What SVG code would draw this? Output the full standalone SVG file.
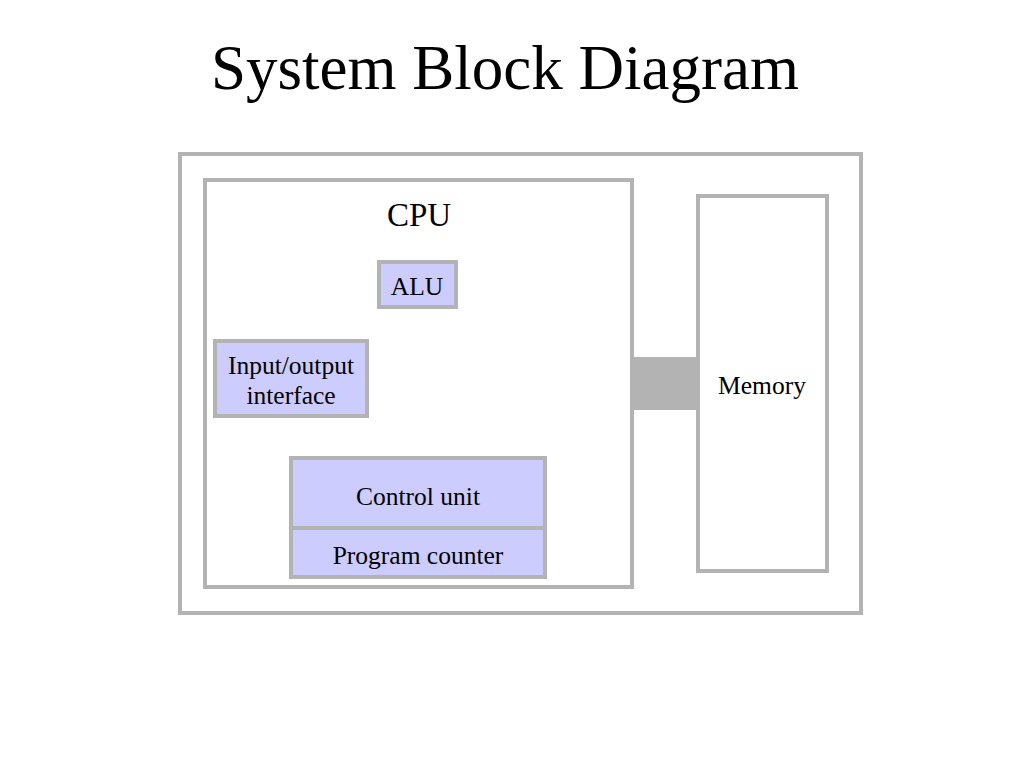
<svg xmlns="http://www.w3.org/2000/svg" width="1024" height="768" viewBox="0 0 1024 768">
<style>
.box{fill:#ffffff;stroke:#b3b3b3;stroke-width:4}
.unit{fill:#ccccff;stroke:#b3b3b3;stroke-width:4}
text{font-family:"Liberation Serif","Times New Roman",serif;fill:#000;text-anchor:middle}
.t{font-size:25.5px}
</style>
<rect width="1024" height="768" fill="#ffffff"/>
<text x="505" y="89" font-size="63">System Block Diagram</text>
<g id="system"><rect class="box" x="180" y="154" width="681" height="459"/></g>
<g id="connectors"><rect x="632" y="357" width="66" height="53" fill="#b3b3b3"/></g>
<g id="cpu"><rect class="box" x="205" y="180" width="427" height="407"/><text x="419" y="226" font-size="33">CPU</text></g>
<g id="alu"><rect class="unit" x="379" y="262" width="77" height="45"/><text class="t" x="417" y="295">ALU</text></g>
<g id="io"><rect class="unit" x="215" y="341" width="152" height="75"/><text class="t" x="291" y="374">Input/output</text><text class="t" x="291" y="404">interface</text></g>
<g id="control"><rect class="unit" x="291" y="458" width="254" height="70"/><text class="t" x="418" y="505">Control unit</text></g>
<g id="pc"><rect class="unit" x="291" y="528" width="254" height="49"/><text class="t" x="418" y="564">Program counter</text></g>
<g id="memory"><rect class="box" x="698" y="196" width="129" height="375"/><text class="t" x="762" y="394">Memory</text></g>
</svg>
